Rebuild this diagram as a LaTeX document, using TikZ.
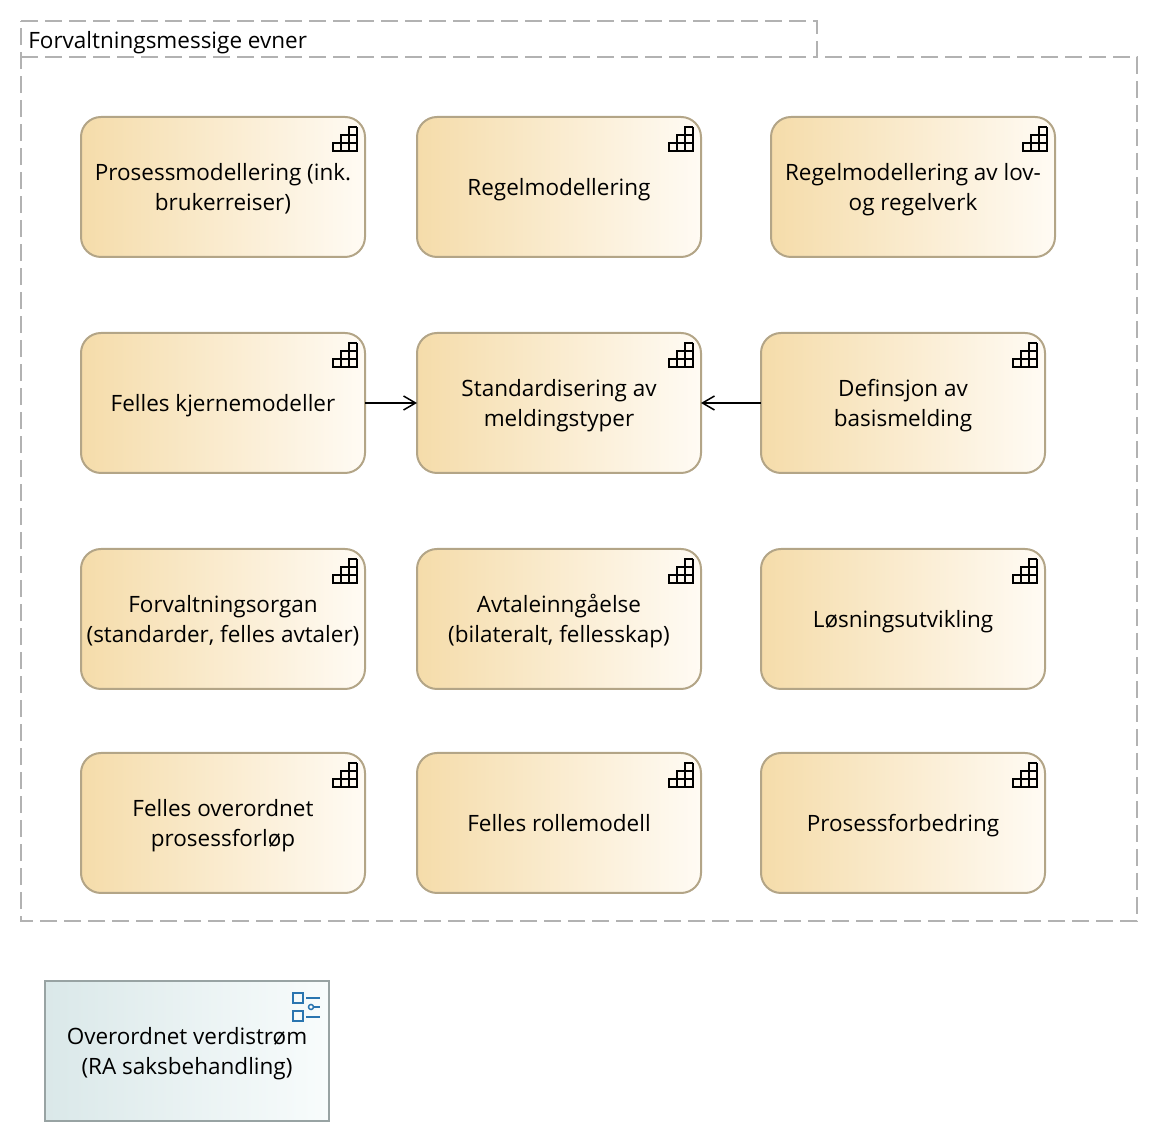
\documentclass[tikz,border=0pt]{standalone}
\usepackage{fontspec}
\setmainfont{Open Sans}
\usetikzlibrary{arrows.meta}
\definecolor{capleft}{HTML}{F5DCAA}
\definecolor{capright}{HTML}{FFFBF4}
\definecolor{capline}{HTML}{B3A587}
\definecolor{valleft}{HTML}{DAE8E9}
\definecolor{valright}{HTML}{F8FCFC}
\definecolor{valline}{HTML}{98A3A3}
\definecolor{groupline}{HTML}{B2B2B2}
\definecolor{valicon}{HTML}{2A75B0}
\newcommand{\linerule}{\rule[-3.9pt]{0pt}{17pt}}
\tikzset{
  boxtext/.style={font=\fontsize{12.8}{17}\selectfont,align=center,text=black,
    execute at end node=\linerule},
  capability/.style={boxtext,rectangle,rounded corners=0.4cm,draw=capline,line width=0.04cm,
    shading=axis,left color=capleft,right color=capright,shading angle=90,
    minimum width=5.68cm,minimum height=2.8cm,inner sep=0pt,outer sep=0pt},
  valuestream/.style={capability,rounded corners=0pt,draw=valline,left color=valleft,right color=valright},
  groupline/.style={draw=groupline,line width=0.04cm,dash pattern=on 0.34cm off 0.14cm},
  stairline/.style={draw=black,line width=0.04cm},
  valline/.style={draw=valicon,line width=0.04cm},
  flow/.style={draw=black,line width=0.035cm,-{Straight Barb[length=0.24cm,width=0.28cm,line width=0.03cm]}}
}
\begin{document}
\begin{tikzpicture}
  \useasboundingbox (0,0) rectangle (23.16,22.84);
  % group outline with its tab
  \coordinate (tabnw) at (0.42,22.42);
  \coordinate (tabne) at (16.34,22.42);
  \coordinate (tabse) at (16.34,21.70);
  \coordinate (groupne) at (22.74,21.70);
  \coordinate (groupse) at (22.74,4.42);
  \coordinate (groupsw) at (0.42,4.42);
  \coordinate (tabsw) at (0.42,21.70);
  \draw[groupline] (tabnw) -- (tabne) -- (tabse) -- (groupne) -- (groupse) -- (groupsw) -- cycle;
  \draw[groupline] (tabsw) -- (tabse);
  \node[boxtext,anchor=west,inner sep=0pt] (grouptitle) at (0.56,22.04) {Forvaltningsmessige evner};

  % capabilities
  \node[capability] (prosess) at (4.46,19.10) {\linerule Prosessmodellering (ink.\\brukerreiser)};
  \node[capability] (regel) at (11.18,19.10) {Regelmodellering};
  \node[capability] (lovverk) at (18.26,19.10) {\linerule Regelmodellering av lov-\\og regelverk};
  \node[capability] (kjerne) at (4.46,14.78) {Felles kjernemodeller};
  \node[capability] (melding) at (11.18,14.78) {\linerule Standardisering av\\meldingstyper};
  \node[capability] (basis) at (18.06,14.78) {\linerule Definsjon av\\basismelding};
  \node[capability] (organ) at (4.46,10.46) {\linerule Forvaltningsorgan\\(standarder, felles avtaler)};
  \node[capability] (avtale) at (11.18,10.46) {\linerule Avtaleinngåelse\\(bilateralt, fellesskap)};
  \node[capability] (losning) at (18.06,10.46) {Løsningsutvikling};
  \node[capability] (forlop) at (4.46,6.38) {\linerule Felles overordnet\\prosessforløp};
  \node[capability] (rolle) at (11.18,6.38) {Felles rollemodell};
  \node[capability] (forbedring) at (18.06,6.38) {Prosessforbedring};
  \node[valuestream] (verdi) at (3.74,1.82) {\linerule Overordnet verdistrøm\\(RA saksbehandling)};

  % stair icons
  \foreach \n in {prosess,regel,lovverk,kjerne,melding,basis,organ,avtale,losning,forlop,rolle,forbedring}{
    \begin{scope}[shift={(\n.north east)}]
      \draw[stairline] (-0.16,-0.20) -- (-0.16,-0.68) -- (-0.64,-0.68) -- (-0.64,-0.52) -- (-0.16,-0.52);
      \draw[stairline] (-0.48,-0.68) -- (-0.48,-0.36) -- (-0.16,-0.36);
      \draw[stairline] (-0.32,-0.68) -- (-0.32,-0.20) -- (-0.16,-0.20);
    \end{scope}
  }

  % value stream icon
  \begin{scope}[shift={(verdi.north east)}]
    \draw[valline] (-0.72,-0.24) rectangle (-0.52,-0.44);
    \draw[valline] (-0.72,-0.60) rectangle (-0.52,-0.80);
    \draw[valline] (-0.46,-0.34) -- (-0.18,-0.34);
    \draw[valline] (-0.46,-0.72) -- (-0.18,-0.72);
    \draw[valline,line width=0.03cm] (-0.34,-0.52) -- (-0.18,-0.52);
    \draw[valline,line width=0.03cm,fill=white] (-0.36,-0.52) circle (0.05);
  \end{scope}

  \draw[flow] (kjerne) -- (melding);
  \draw[flow] (basis) -- (melding);
\end{tikzpicture}
\end{document}
